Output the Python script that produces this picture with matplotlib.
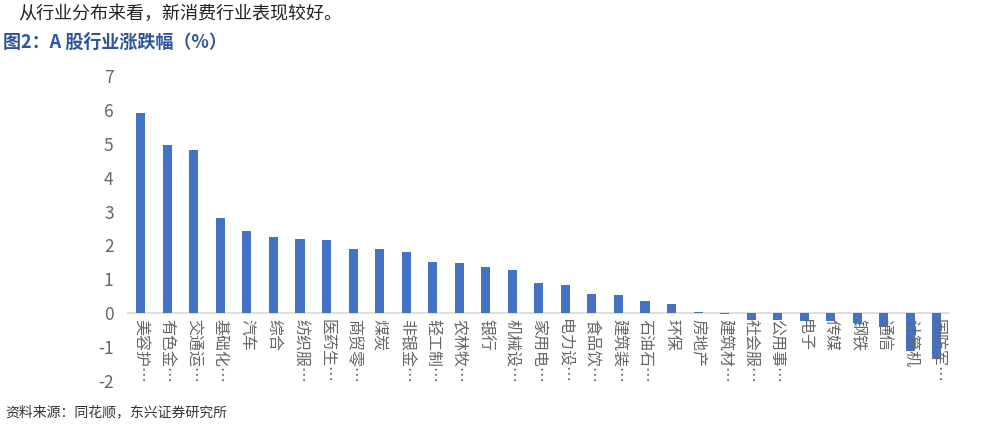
import matplotlib
matplotlib.use("Agg")
import matplotlib.pyplot as plt

plt.rcParams['font.family'] = ['Noto Sans CJK SC', 'DejaVu Sans']

industries = ["美容护…", "有色金…", "交通运…", "基础化…", "汽车", "综合", "纺织服…",
              "医药生…", "商贸零…", "煤炭", "非银金…", "轻工制…", "农林牧…", "银行",
              "机械设…", "家用电…", "电力设…", "食品饮…", "建筑装…", "石油石…", "环保",
              "房地产", "建筑材…", "社会服…", "公用事…", "电子", "传媒", "钢铁",
              "通信", "计算机", "国防军…"]
changes = [5.90, 4.96, 4.81, 2.80, 2.42, 2.24, 2.18, 2.15, 1.89, 1.89, 1.82,
           1.52, 1.48, 1.36, 1.27, 0.89, 0.84, 0.57, 0.55, 0.37, 0.27,
           0.05, -0.01, -0.20, -0.20, -0.23, -0.24, -0.30, -0.42, -1.10, -1.35]
yticks = list(range(-2, 8))

fig = plt.figure(figsize=(9.96, 4.26), dpi=100)
ax = fig.add_axes([0.128, 0.1056, 0.826, 0.716])

x = range(len(industries))
ax.bar(x, changes, width=0.34, color='#4472C4', zorder=2)

ax.set_xlim(-0.5, len(industries) - 0.5)
ax.set_ylim(-2, 7)
ax.set_yticks(yticks)
ax.set_yticklabels([str(t) for t in yticks], fontsize=12.5, color='#666666')
ax.tick_params(axis='y', length=0, pad=10)
ax.tick_params(axis='x', length=0)
ax.set_xticks([])

for s in ['top', 'right', 'left', 'bottom']:
    ax.spines[s].set_visible(False)
ax.axhline(0, color='#D9D9D9', lw=1.2, zorder=1)

# category labels hang just under the zero line
for i, name in enumerate(industries):
    ax.annotate(name, xy=(i, 0), xytext=(0, -4), textcoords='offset points',
                rotation=-90, ha='center', va='top', fontsize=11.5,
                color='#666666')

fig.text(0.018, 0.967, "从行业分布来看，新消费行业表现较好。", fontsize=13,
         color='#222222', va='center', ha='left')
fig.text(0.003, 0.9, "图2：A 股行业涨跌幅（%）", fontsize=13, fontweight='bold',
         color='#2E5597', va='center', ha='left')
fig.text(0.005, 0.033, "资料来源：同花顺，东兴证券研究所", fontsize=10,
         color='#333333', va='center', ha='left', style='italic')

fig.savefig("out.png", dpi=100)
